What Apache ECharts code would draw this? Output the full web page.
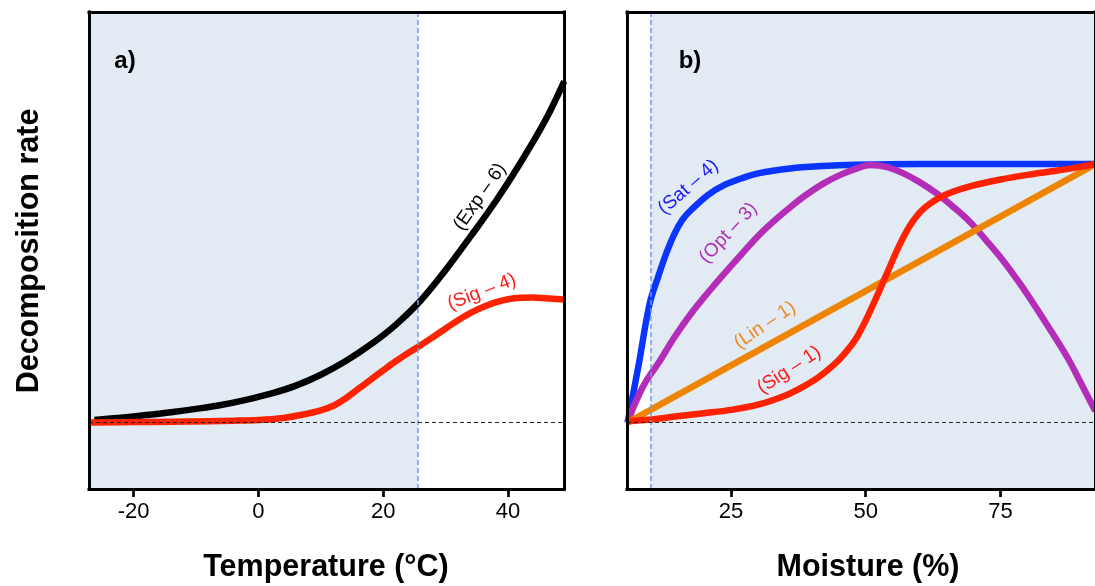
<!DOCTYPE html>
<html>
<head>
<meta charset="utf-8">
<script src="https://cdn.jsdelivr.net/npm/echarts@6/dist/echarts.min.js"></script>
<style>
html,body{margin:0;padding:0;background:#fff;}
#c{width:1095px;height:586px;}
</style>
</head>
<body>
<div id="c"></div>
<script>
// ---------- data ----------
const tempTicks = [-20, 0, 20, 40];
const moistTicks = [25, 50, 75];
const tempRange = [-27.16, 48.97];
const moistRange = [5.70, 92.55];
const rateRange = [-0.257, 1.588];
const tempShadeEnd = 25.6;      // shaded region of panel a ends here
const moistShadeStart = 10.1;   // shaded region of panel b starts here

// panel a: temperature responses
const expT    = [-26.3, -22, -18, -14, -10, -6, -2, 2, 6, 10, 14, 18, 22, 26, 30, 34, 38, 42, 46, 49];
const expRate = [0.010, 0.019, 0.029, 0.040, 0.053, 0.068, 0.088, 0.112, 0.143, 0.185, 0.238, 0.302, 0.378, 0.472, 0.590, 0.720, 0.855, 1.005, 1.170, 1.320];

const sig4T    = [-27.2, -20, -14, -8, -4, 0, 4, 7, 10, 12, 14, 16, 18, 20, 22, 24, 26, 28, 30, 32, 34, 36, 38, 40, 42, 44, 46, 49];
const sig4Rate = [0.000, 0.002, 0.003, 0.005, 0.007, 0.010, 0.018, 0.030, 0.047, 0.065, 0.094, 0.130, 0.166, 0.202, 0.237, 0.269, 0.299, 0.331, 0.364, 0.396, 0.424, 0.447, 0.465, 0.477, 0.483, 0.484, 0.481, 0.476];

// panel b: moisture responses
const satM    = [5.8, 7.8, 9.9, 11.5, 13, 14.5, 16, 17.6, 20.7, 23.8, 27, 30, 36, 42, 48, 60, 75, 92.6];
const satRate = [0.0, 0.216, 0.46, 0.565, 0.655, 0.73, 0.785, 0.822, 0.88, 0.919, 0.945, 0.964, 0.983, 0.992, 0.997, 1.0, 1.0, 1.0];

const optM    = [5.8, 7.2, 9.0, 11.5, 14.5, 17.6, 20.7, 23.8, 26.9, 29.9, 33, 36.1, 39.1, 42.2, 45.3, 48.4, 50.8, 54, 57, 60, 63.1, 66.2, 69.3, 72.3, 75.4, 78.5, 81.5, 84.6, 87.7, 90, 92.6];
const optRate = [0.0, 0.074, 0.152, 0.229, 0.33, 0.422, 0.502, 0.577, 0.65, 0.719, 0.78, 0.835, 0.883, 0.925, 0.958, 0.983, 0.996, 0.988, 0.964, 0.93, 0.887, 0.835, 0.777, 0.706, 0.629, 0.541, 0.448, 0.347, 0.242, 0.15, 0.045];

const linM    = [5.8, 92.6];
const linRate = [0.0, 1.0];

const sig1M    = [5.8, 10, 15, 20, 25, 30, 35, 38, 41, 44, 46, 48, 50, 52, 54, 56, 58, 60, 62, 65, 70, 75, 80, 85, 90, 92.6];
const sig1Rate = [0.005, 0.012, 0.024, 0.036, 0.049, 0.069, 0.104, 0.134, 0.172, 0.222, 0.265, 0.318, 0.395, 0.485, 0.58, 0.675, 0.755, 0.812, 0.848, 0.883, 0.917, 0.94, 0.958, 0.973, 0.99, 1.0];

// text annotations (anchored in data coordinates)
const curveLabels = [
  {text: '(Exp \u2013 6)', grid: 0, x: 35.5, y: 0.873, angle: 55, color: '#000000'},
  {text: '(Sig \u2013 4)', grid: 0, x: 35.8, y: 0.505, angle: 21, color: '#ff1a1a'},
  {text: '(Sat \u2013 4)', grid: 1, x: 17.1, y: 0.911, angle: 41, color: '#1a1aff'},
  {text: '(Opt \u2013 3)', grid: 1, x: 24.5, y: 0.733, angle: 47, color: '#b030b0'},
  {text: '(Lin \u2013 1)', grid: 1, x: 31.3, y: 0.377, angle: 34, color: '#ee8a1c'},
  {text: '(Sig \u2013 1)', grid: 1, x: 35.8, y: 0.203, angle: 33, color: '#ff1a1a'}
];

// ---------- chart ----------
const FONT = '"Liberation Sans", Arial, Helvetica, sans-serif';
const zip = (a, b) => a.map((v, i) => [v, b[i]]);
const SHADE = '#e2eaf4';
const frameLine = {show: true, onZero: false, lineStyle: {color: '#000', width: 3, cap: 'square'}};

function bottomAxis(gridIndex, range, ticks) {
  return {
    type: 'value', gridIndex, position: 'bottom', min: range[0], max: range[1], z: 10,
    axisLine: frameLine,
    axisTick: {show: true, customValues: ticks, length: 8, inside: false, lineStyle: {color: '#000', width: 2.7}},
    axisLabel: {show: true, customValues: ticks, color: '#000', fontSize: 22, fontFamily: FONT, margin: 12},
    splitLine: {show: false}
  };
}
function topAxis(gridIndex, range) {
  return {
    type: 'value', gridIndex, position: 'top', min: range[0], max: range[1], z: 10,
    axisLine: frameLine, axisTick: {show: false}, axisLabel: {show: false}, splitLine: {show: false}
  };
}
function sideAxis(gridIndex, pos) {
  return {
    type: 'value', gridIndex, position: pos, min: rateRange[0], max: rateRange[1], z: 10,
    axisLine: frameLine, axisTick: {show: false}, axisLabel: {show: false}, splitLine: {show: false}
  };
}
function curve(name, xi, data, color) {
  return {
    name, type: 'line', xAxisIndex: xi, yAxisIndex: xi, data, z: 4,
    showSymbol: false, smooth: 0.35, silent: true,
    lineStyle: {color, width: 6.5, cap: 'butt', join: 'round'}
  };
}

const option = {
  animation: false,
  backgroundColor: '#ffffff',
  grid: [
    {left: 89, right: 531, top: 12, bottom: 97},
    {left: 627, right: -3, top: 12, bottom: 97}
  ],
  xAxis: [
    bottomAxis(0, tempRange, tempTicks),
    topAxis(0, tempRange),
    bottomAxis(1, moistRange, moistTicks),
    topAxis(1, moistRange)
  ],
  yAxis: [
    sideAxis(0, 'left'),
    sideAxis(0, 'right'),
    sideAxis(1, 'left'),
    sideAxis(1, 'right')
  ],
  series: [
    {
      type: 'line', xAxisIndex: 0, yAxisIndex: 0, data: [], z: 1, silent: true,
      markArea: {silent: true, itemStyle: {color: SHADE}, data: [[{xAxis: tempRange[0]}, {xAxis: tempShadeEnd}]]},
      markLine: {silent: true, symbol: ['none', 'none'], label: {show: false},
        lineStyle: {color: '#6b9bf2', width: 1.5, type: [5, 3]}, data: [{xAxis: tempShadeEnd}]}
    },
    {
      type: 'line', xAxisIndex: 2, yAxisIndex: 2, data: [], z: 1, silent: true,
      markArea: {silent: true, itemStyle: {color: SHADE}, data: [[{xAxis: moistShadeStart}, {xAxis: moistRange[1]}]]},
      markLine: {silent: true, symbol: ['none', 'none'], label: {show: false},
        lineStyle: {color: '#6b9bf2', width: 1.5, type: [5, 3]}, data: [{xAxis: moistShadeStart}]}
    },
    curve('Exp-6', 0, zip(expT, expRate), '#000000'),
    curve('Sig-4', 0, zip(sig4T, sig4Rate), '#ff2200'),
    curve('Sat-4', 2, zip(satM, satRate), '#0a34ff'),
    curve('Opt-3', 2, zip(optM, optRate), '#b42db8'),
    curve('Lin-1', 2, zip(linM, linRate), '#ee8400'),
    curve('Sig-1', 2, zip(sig1M, sig1Rate), '#ff2200'),
    {
      type: 'line', xAxisIndex: 0, yAxisIndex: 0, data: [], z: 6, silent: true,
      markLine: {silent: true, symbol: ['none', 'none'], label: {show: false},
        lineStyle: {color: '#222', width: 1, type: [4, 3]}, data: [{yAxis: 0}]}
    },
    {
      type: 'line', xAxisIndex: 2, yAxisIndex: 2, data: [], z: 6, silent: true,
      markLine: {silent: true, symbol: ['none', 'none'], label: {show: false},
        lineStyle: {color: '#222', width: 1, type: [4, 3]}, data: [{yAxis: 0}]}
    }
  ]
};

const chart = echarts.init(document.getElementById('c'), null, {renderer: 'canvas'});
chart.setOption(option);

const graphics = [];
function txt(x, y, text, opts) {
  return Object.assign({
    type: 'text', x, y, z: 20, silent: true,
    style: Object.assign({
      text, fill: '#000', fontFamily: FONT, fontSize: 22,
      align: 'center', verticalAlign: 'middle', textAlign: 'center', textVerticalAlign: 'middle'
    }, opts.style || {})
  }, opts.el || {});
}
curveLabels.forEach(l => {
  const p = chart.convertToPixel({gridIndex: l.grid}, [l.x, l.y]);
  graphics.push(txt(p[0], p[1], l.text, {style: {fill: l.color, fontSize: 19}, el: {rotation: l.angle * Math.PI / 180}}));
});
graphics.push(txt(125, 61, 'a)', {style: {fontSize: 24, fontWeight: 'bold'}}));
graphics.push(txt(690, 61, 'b)', {style: {fontSize: 24, fontWeight: 'bold'}}));
graphics.push(txt(30, 251, 'Decomposition rate', {style: {fontSize: 30.5, fontWeight: 'bold'}, el: {rotation: Math.PI / 2}}));
graphics.push(txt(326, 568, 'Temperature (\u00B0C)', {style: {fontSize: 30.5, fontWeight: 'bold'}}));
graphics.push(txt(868, 568, 'Moisture (%)', {style: {fontSize: 30.5, fontWeight: 'bold'}}));
chart.setOption({graphic: graphics});
</script>
</body>
</html>
